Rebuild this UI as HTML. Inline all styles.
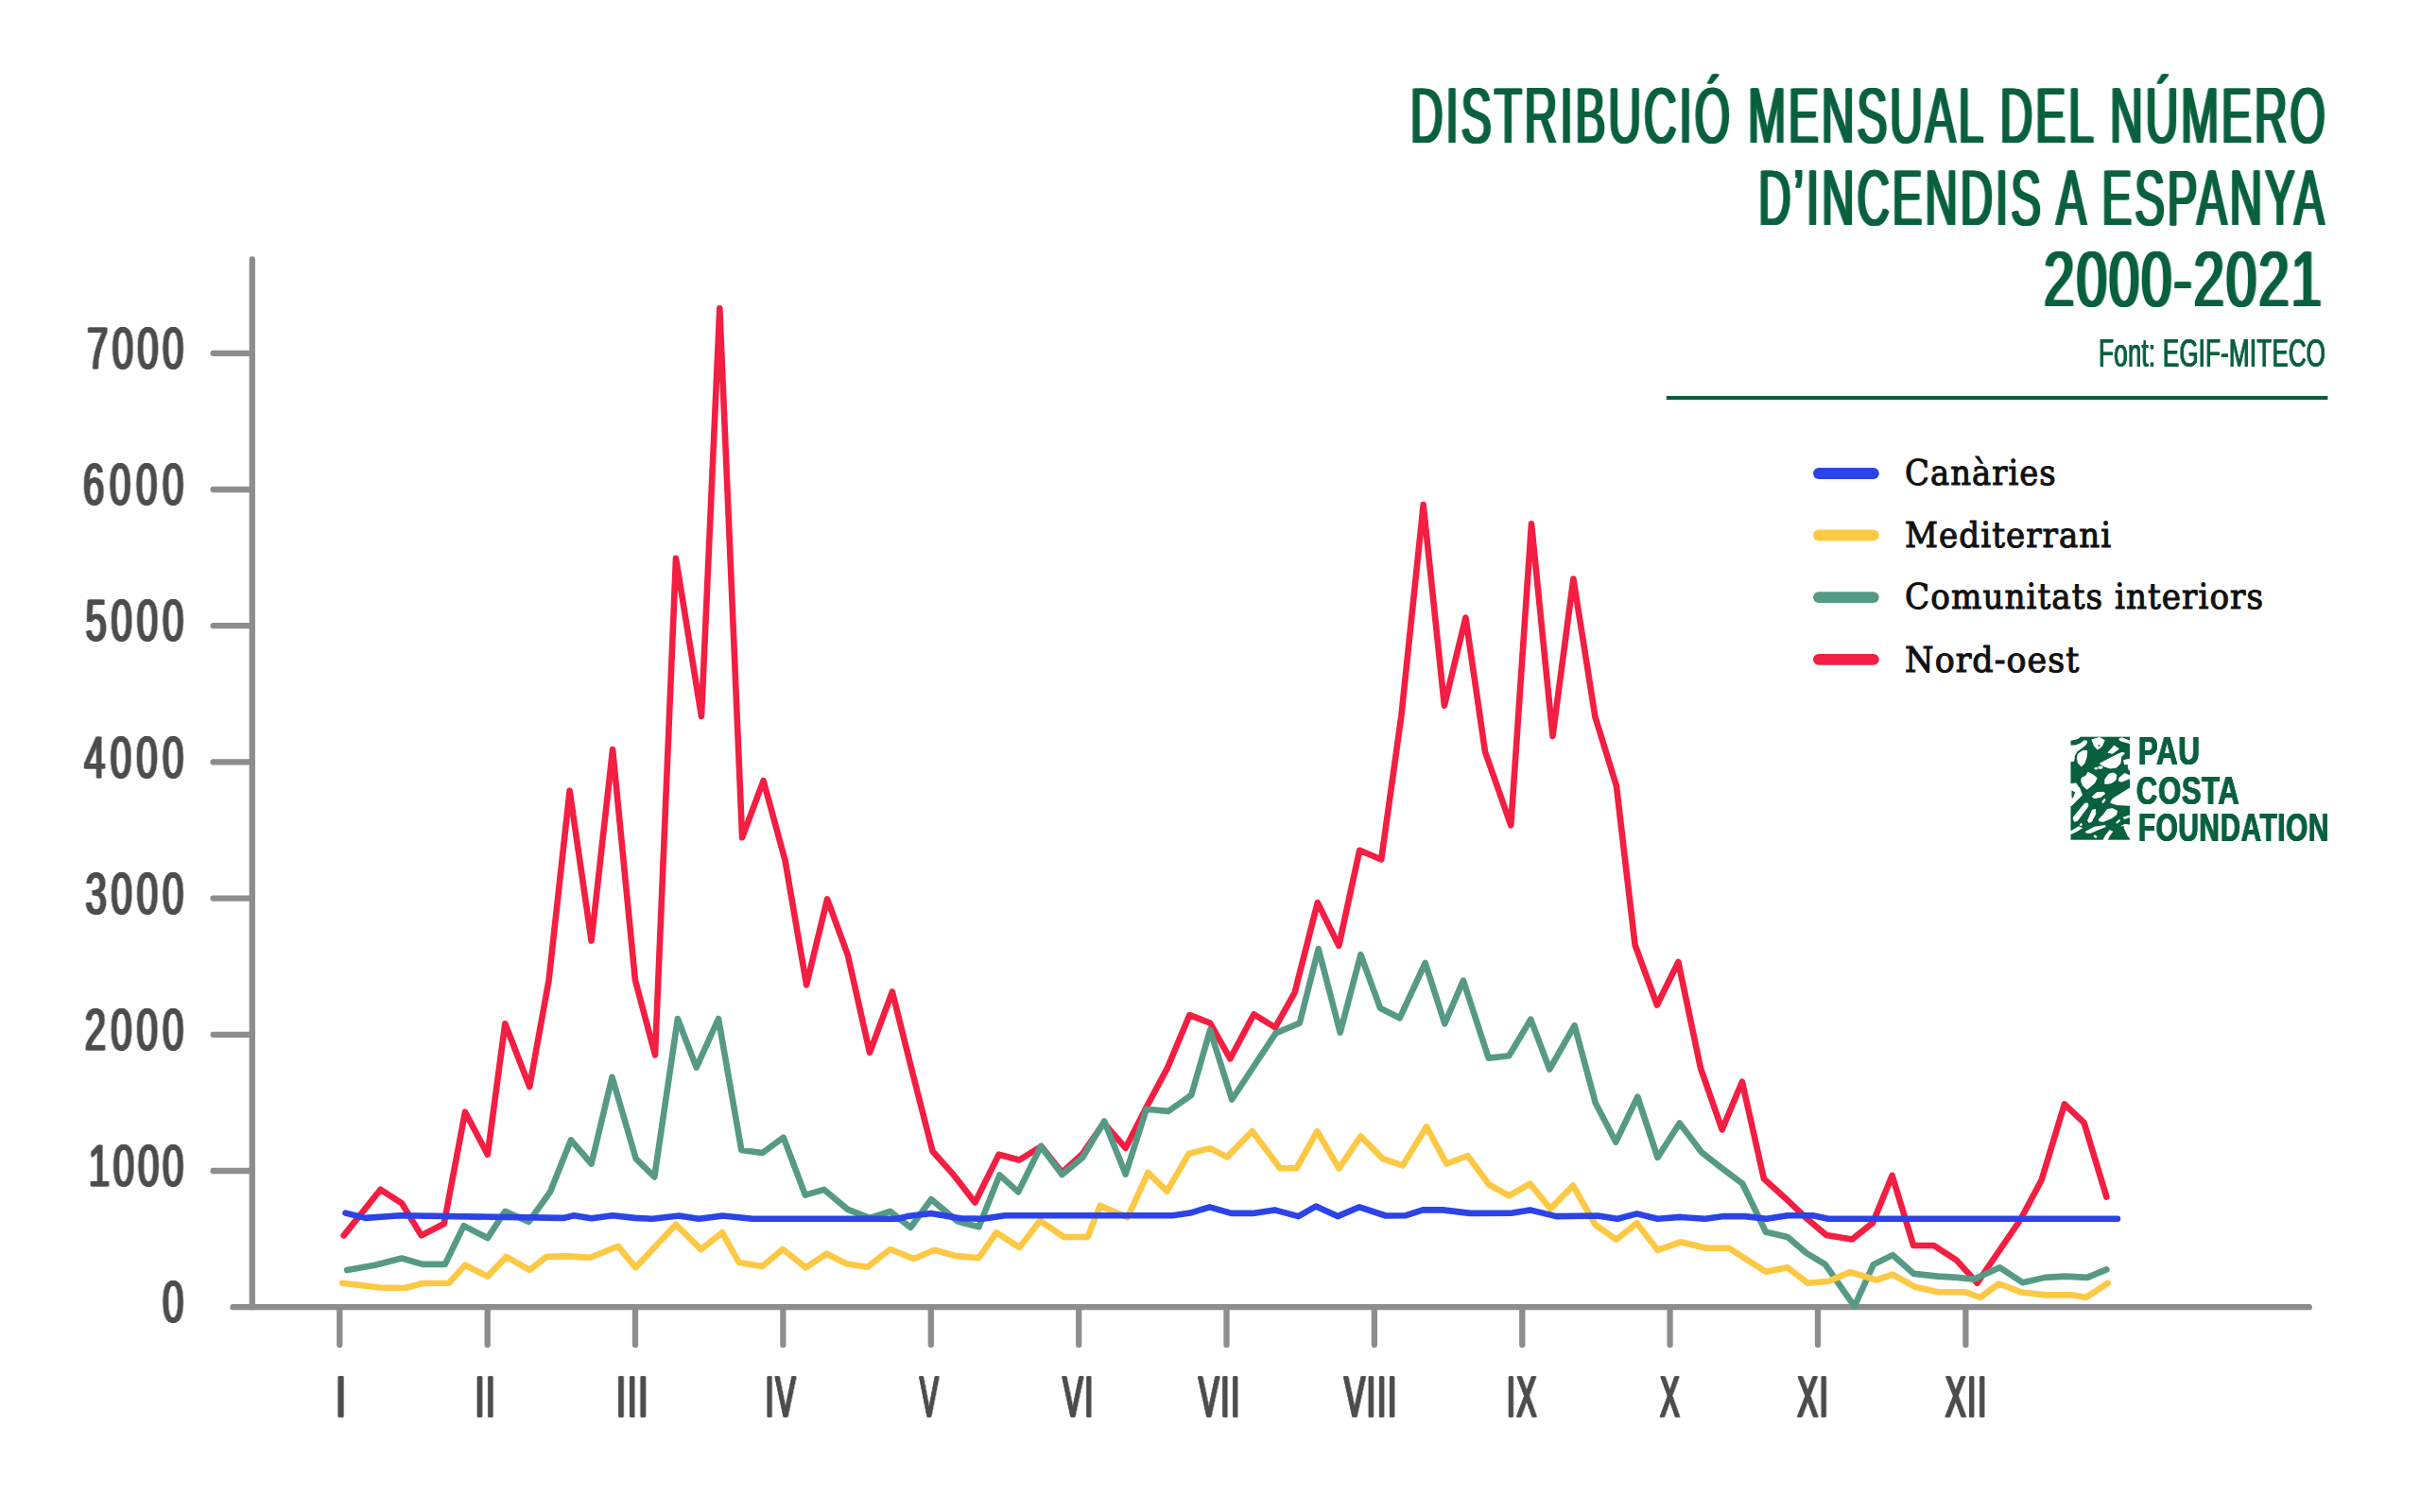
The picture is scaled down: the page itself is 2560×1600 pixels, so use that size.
<!DOCTYPE html>
<html lang="ca"><head><meta charset="utf-8"><title>Distribució mensual del número d’incendis a Espanya 2000-2021</title>
<style>
html,body{margin:0;padding:0;background:#fff;}
body{width:2560px;height:1600px;overflow:hidden;}
svg{display:block;}
text{font-family:"Liberation Sans",sans-serif;}
.ylab,.xlab{fill:#4d4d4d;}
.title{fill:#08603d;}
.src{fill:#08603d;}
.leg{font-family:"DejaVu Serif","Liberation Serif",serif;fill:#111;}
.logo{fill:#08603d;}
</style></head><body>
<svg width="2560" height="1600" viewBox="0 0 2560 1600">
<g stroke="#8d8d8d" stroke-width="6.3" stroke-linecap="round" fill="none">
<line x1="266.8" y1="274.3" x2="266.8" y2="1383.2"/>
<line x1="246.5" y1="1383.2" x2="2442.8" y2="1383.2"/>
<line x1="225.6" y1="1239.0" x2="266.8" y2="1239.0"/>
<line x1="225.6" y1="1094.8" x2="266.8" y2="1094.8"/>
<line x1="225.6" y1="950.6" x2="266.8" y2="950.6"/>
<line x1="225.6" y1="806.4" x2="266.8" y2="806.4"/>
<line x1="225.6" y1="662.2" x2="266.8" y2="662.2"/>
<line x1="225.6" y1="518.0" x2="266.8" y2="518.0"/>
<line x1="225.6" y1="373.8" x2="266.8" y2="373.8"/>
<line x1="359.3" y1="1383.2" x2="359.3" y2="1423"/>
<line x1="515.7" y1="1383.2" x2="515.7" y2="1423"/>
<line x1="672.0" y1="1383.2" x2="672.0" y2="1423"/>
<line x1="828.4" y1="1383.2" x2="828.4" y2="1423"/>
<line x1="984.8" y1="1383.2" x2="984.8" y2="1423"/>
<line x1="1141.2" y1="1383.2" x2="1141.2" y2="1423"/>
<line x1="1297.5" y1="1383.2" x2="1297.5" y2="1423"/>
<line x1="1453.9" y1="1383.2" x2="1453.9" y2="1423"/>
<line x1="1610.3" y1="1383.2" x2="1610.3" y2="1423"/>
<line x1="1766.6" y1="1383.2" x2="1766.6" y2="1423"/>
<line x1="1923.0" y1="1383.2" x2="1923.0" y2="1423"/>
<line x1="2079.4" y1="1383.2" x2="2079.4" y2="1423"/>
</g>
<polyline points="363.7,1307.4 402.5,1258.8 425.0,1273.3 445.7,1307.4 469.7,1295.0 492.0,1176.7 515.8,1221.7 534.3,1083.3 560.2,1150.0 580.6,1037.0 602.6,836.8 625.6,995.5 648.1,793.1 671.9,1037.0 693.0,1116.4 715.0,590.9 742.0,757.9 761.3,326.3 785.1,886.3 807.6,826.2 830.6,910.9 853.1,1042.3 875.1,951.4 896.8,1010.6 920.0,1113.8 943.9,1049.5 965.5,1136.0 986.5,1218.3 1008.9,1243.4 1031.4,1272.5 1056.6,1221.7 1078.3,1227.5 1101.5,1213.0 1123.5,1240.8 1145.2,1220.9 1167.7,1188.4 1190.7,1214.8 1214.0,1169.3 1235.2,1129.6 1258.4,1074.1 1280.1,1082.5 1301.3,1120.4 1326.4,1073.3 1348.9,1087.3 1369.6,1050.3 1393.8,955.1 1416.3,1000.8 1438.2,899.8 1461.2,909.5 1482.4,757.4 1505.7,534.1 1527.9,746.6 1550.4,653.5 1571.0,795.5 1598.3,873.3 1620.0,554.2 1642.5,778.9 1664.4,612.5 1687.4,758.5 1709.9,831.5 1729.6,1000.0 1752.9,1063.5 1775.4,1018.0 1799.0,1130.4 1821.7,1195.3 1842.9,1144.7 1865.9,1247.4 1888.4,1267.7 1910.1,1288.4 1932.0,1306.9 1959.3,1311.4 1981.0,1294.2 2001.6,1243.9 2024.1,1318.0 2045.8,1318.0 2069.6,1333.4 2091.6,1357.7 2137.1,1291.0 2159.6,1248.7 2183.9,1168.5 2204.5,1187.8 2228.4,1266.7" fill="none" stroke="#f31e42" stroke-width="6.6" stroke-linecap="round" stroke-linejoin="round"/>
<polyline points="367.1,1343.9 396.7,1338.7 425.0,1331.5 447.0,1337.9 470.8,1337.9 490.6,1297.1 515.8,1310.1 534.3,1281.8 559.4,1292.9 581.9,1261.4 603.9,1206.4 625.6,1231.5 647.5,1139.7 672.7,1226.2 692.3,1245.5 716.9,1078.0 736.7,1129.6 760.0,1078.0 784.3,1216.9 806.3,1220.1 828.8,1203.7 851.8,1264.6 871.6,1258.8 896.8,1279.9 920.0,1288.9 941.7,1281.8 963.2,1299.0 985.1,1269.1 1012.9,1292.4 1035.4,1298.4 1057.4,1243.4 1077.2,1261.4 1101.0,1213.0 1123.5,1242.9 1145.2,1224.9 1168.2,1186.5 1190.7,1242.6 1212.7,1173.8 1235.9,1175.9 1260.3,1158.7 1280.1,1090.0 1303.2,1163.5 1326.4,1128.3 1349.7,1093.1 1374.8,1082.8 1394.7,1004.0 1417.7,1092.6 1439.4,1010.1 1460.0,1066.7 1480.7,1077.3 1507.7,1019.0 1528.3,1083.3 1547.9,1037.6 1574.6,1119.6 1596.3,1117.2 1619.3,1078.6 1639.2,1131.5 1665.6,1085.2 1687.8,1167.2 1709.3,1208.5 1732.3,1160.6 1753.5,1224.9 1776.7,1188.4 1799.8,1219.1 1821.7,1236.3 1843.4,1252.7 1868.0,1303.7 1891.0,1309.0 1910.9,1326.0 1930.7,1337.9 1961.7,1382.3 1981.8,1338.1 2002.1,1328.1 2024.6,1347.9 2049.8,1350.6 2070.9,1351.9 2088.1,1353.7 2115.4,1341.3 2139.7,1357.2 2163.0,1351.9 2184.7,1350.6 2208.0,1351.9 2228.4,1343.4" fill="none" stroke="#569a86" stroke-width="6.6" stroke-linecap="round" stroke-linejoin="round"/>
<polyline points="362.3,1357.7 402.0,1362.5 428.5,1363.0 447.0,1358.0 474.8,1357.7 492.0,1338.7 515.8,1350.6 535.6,1329.9 560.2,1343.9 578.0,1329.9 600.4,1329.4 624.3,1330.7 653.9,1318.8 672.4,1341.3 715.0,1295.8 741.5,1322.2 764.0,1304.3 781.7,1336.0 806.3,1340.0 828.0,1322.0 852.6,1341.3 874.3,1326.7 895.4,1337.3 917.4,1340.8 941.7,1322.0 966.6,1332.0 988.6,1322.8 1010.3,1328.9 1035.4,1331.2 1053.9,1304.3 1078.5,1320.1 1100.2,1291.8 1125.4,1309.0 1150.5,1309.0 1163.7,1275.9 1192.8,1288.4 1214.5,1240.8 1234.4,1260.6 1257.6,1220.9 1280.1,1215.1 1298.1,1224.4 1324.6,1197.1 1354.2,1236.3 1371.4,1236.3 1393.4,1197.1 1416.4,1236.3 1439.4,1202.4 1462.7,1226.2 1483.9,1233.4 1509.0,1192.3 1530.2,1231.5 1552.6,1223.0 1575.1,1253.5 1596.3,1265.4 1618.5,1252.7 1640.2,1279.1 1664.0,1254.5 1687.8,1296.3 1709.8,1311.7 1731.5,1294.2 1753.5,1322.8 1777.8,1314.3 1805.0,1320.7 1828.9,1320.7 1868.0,1345.8 1891.0,1341.3 1912.2,1357.7 1934.7,1355.8 1957.2,1346.1 1985.0,1354.5 2002.1,1348.7 2026.0,1361.9 2049.8,1367.2 2078.3,1367.2 2094.7,1373.0 2114.6,1358.5 2137.1,1367.2 2163.5,1370.4 2192.6,1370.4 2206.7,1373.0 2229.7,1357.7" fill="none" stroke="#fdc843" stroke-width="6.6" stroke-linecap="round" stroke-linejoin="round"/>
<polyline points="365.5,1283.6 386.7,1288.9 423.2,1286.3 596.5,1288.9 607.1,1286.3 625.6,1289.2 648.1,1286.3 671.9,1288.9 690.4,1289.7 718.2,1286.5 739.3,1289.7 764.5,1286.5 796.2,1289.7 949.7,1289.7 960.0,1287.1 985.1,1283.9 1015.6,1289.2 1039.4,1289.7 1063.2,1286.3 1240.4,1286.3 1259.0,1283.6 1279.6,1277.3 1302.6,1283.9 1325.1,1283.9 1348.4,1280.4 1373.5,1287.1 1392.0,1276.5 1415.1,1287.1 1438.1,1277.3 1465.9,1286.5 1486.5,1286.3 1505.0,1280.4 1526.2,1280.4 1555.3,1283.9 1600.0,1283.6 1618.5,1280.4 1646.3,1287.1 1690.0,1286.5 1711.1,1289.7 1731.5,1284.4 1753.5,1289.7 1777.3,1287.9 1803.7,1289.7 1823.6,1287.1 1846.1,1287.1 1868.5,1289.7 1891.0,1286.3 1917.5,1286.3 1934.2,1289.7 2240.0,1289.7" fill="none" stroke="#2c43e8" stroke-width="6.6" stroke-linecap="round" stroke-linejoin="round"/>
<line x1="1762.8" y1="421" x2="2462.4" y2="421" stroke="#08603d" stroke-width="4.2"/>
<line x1="1923.9" y1="501.0" x2="1981.9" y2="501.0" stroke="#2c43e8" stroke-width="11.8" stroke-linecap="round"/>
<line x1="1923.9" y1="566.4" x2="1981.9" y2="566.4" stroke="#fdc843" stroke-width="11.8" stroke-linecap="round"/>
<line x1="1923.9" y1="632.1" x2="1981.9" y2="632.1" stroke="#569a86" stroke-width="11.8" stroke-linecap="round"/>
<line x1="1923.9" y1="697.8" x2="1981.9" y2="697.8" stroke="#f31e42" stroke-width="11.8" stroke-linecap="round"/>
<g>
<rect x="2190.5" y="779.7" width="62.5" height="109" fill="#08603d"/>
<g fill="#fff" stroke="#fff" stroke-width="1.0" stroke-linejoin="round">
<polygon points="2189.6,789.1 2195.9,788.9 2201.1,786.7 2204.6,783.9 2207.8,784.2 2206.6,787.9 2201.1,792.2 2196.7,795.4 2194.3,800.2 2193.9,805.3 2189.6,805.7"/>
<polygon points="2213.0,782.7 2221.3,780.5 2226.2,783.4 2223.3,789.9 2218.9,793.0 2215.7,789.9"/>
<polygon points="2241.8,781.9 2244.7,780.8 2253.2,784.2 2253.2,786.7 2247.5,785.1 2242.7,783.7"/>
<polygon points="2230.0,796.4 2236.4,789.1 2241.3,792.4 2234.8,797.2"/>
<polygon points="2221.3,808.1 2233.2,801.8 2244.3,796.4 2247.5,797.0 2243.7,801.0 2242.9,808.1 2238.7,812.1 2232.4,813.0 2226.8,811.3"/>
<polygon points="2198.3,797.8 2203.8,794.2 2207.8,794.6 2207.2,801.0 2204.8,808.1 2201.6,810.9 2198.4,807.3 2197.5,802.6"/>
<polygon points="2246.7,804.5 2253.2,803.2 2253.2,808.3 2247.5,808.9"/>
<polygon points="2251.3,808.9 2253.2,808.9 2253.2,815.3 2251.4,813.7"/>
<polygon points="2215.7,812.9 2218.1,812.1 2218.9,813.7 2216.5,814.1"/>
<polygon points="2219.7,811.3 2223.7,810.9 2224.1,812.9 2220.5,813.3"/>
<polygon points="2202.1,823.3 2207.0,820.8 2208.8,817.2 2214.1,820.0 2218.1,823.3 2215.7,828.7 2207.8,835.2 2203.8,831.9 2201.8,827.2"/>
<polygon points="2226.8,824.8 2230.8,819.2 2235.6,818.0 2238.9,820.0 2237.9,825.6 2233.2,828.7 2226.8,829.5"/>
<polygon points="2241.9,823.2 2247.5,818.4 2253.2,821.0 2253.2,823.6 2244.3,827.2 2241.5,826.4"/>
<polygon points="2189.6,829.9 2195.9,828.9 2199.9,834.3 2202.4,841.4 2195.9,847.8 2191.9,852.1 2189.6,852.9"/>
<polygon points="2213.2,843.2 2218.1,838.7 2225.3,838.3 2226.8,839.8 2222.1,843.5 2215.7,844.6"/>
<polygon points="2234.8,845.4 2252.2,834.5 2253.8,834.3 2253.8,852.3 2249.8,852.1 2239.5,851.6 2232.6,849.4"/>
<polygon points="2223.7,848.7 2226.0,845.4 2227.2,846.2 2224.9,849.8"/>
<polygon points="2193.1,865.2 2205.4,850.2 2208.6,850.0 2208.8,853.3 2197.6,868.4 2194.3,869.2"/>
<polygon points="2208.6,868.4 2213.4,857.3 2216.5,856.5 2216.7,861.3 2212.6,869.2 2209.8,870.4"/>
<polygon points="2220.5,866.8 2225.3,862.1 2229.2,856.5 2234.8,855.7 2239.5,858.1 2238.7,862.1 2233.2,866.0 2225.3,869.2 2220.9,868.9"/>
<polygon points="2246.0,865.2 2253.8,862.7 2253.8,864.3 2247.5,866.4"/>
<polygon points="2238.7,870.4 2241.9,867.6 2242.9,868.4 2239.5,871.3"/>
<polygon points="2189.6,880.3 2199.1,874.8 2202.4,876.3 2196.7,879.7 2191.9,882.1 2189.6,882.5"/>
<polygon points="2206.2,880.3 2215.7,875.2 2226.8,873.6 2227.3,874.8 2218.9,878.1 2211.8,881.3 2207.0,881.3"/>
<polygon points="2200.3,872.4 2201.8,871.2 2202.2,873.2 2200.8,873.6"/>
<polygon points="2214.9,884.7 2216.5,883.9 2218.1,885.9 2216.1,886.3"/>
<polygon points="2244.5,874.1 2246.8,873.2 2247.6,877.1 2251.4,885.1 2253.8,887.4 2253.8,873.2 2247.5,872.4"/>
<polygon points="2224.9,889.4 2226.8,885.1 2231.6,878.7 2234.8,879.9 2231.6,884.3 2228.8,889.4"/>
<polygon points="2189.6,778.8 2201.1,778.8 2198.3,781.5 2189.6,783.5"/>
</g>
<circle cx="2220.5" cy="789.1" r="1.0" fill="#08603d"/>
<polygon points="2191.5,836.3 2195.1,838.4 2192.9,844.6 2191.5,843.8" fill="#08603d"/>
</g>
<text class="title" font-weight="normal" font-size="82.99" style="letter-spacing:5.00px;filter:drop-shadow(2.5px 0 0 #08603d) drop-shadow(-2.5px 0 0 #08603d);" transform="translate(1492.30,151.20) scale(0.5781,1)">DISTRIBUCIÓ MENSUAL DEL NÚMERO</text>
<text class="title" font-weight="normal" font-size="82.99" style="letter-spacing:5.00px;filter:drop-shadow(2.5px 0 0 #08603d) drop-shadow(-2.5px 0 0 #08603d);" transform="translate(1860.51,237.50) scale(0.5746,1)">D’INCENDIS A ESPANYA</text>
<text class="title" font-weight="normal" font-size="82.99" style="letter-spacing:2.83px;filter:drop-shadow(2.3px 0 0 #08603d) drop-shadow(-2.3px 0 0 #08603d);" transform="translate(2162.59,323.80) scale(0.7000,1)">2000-2021</text>
<text class="src" font-weight="normal" font-size="43.00" style="letter-spacing:0.40px;filter:drop-shadow(0.2px 0 0 #08603d) drop-shadow(-0.2px 0 0 #08603d);" transform="translate(2220.50,387.80) scale(0.6022,1)">Font: EGIF-MITECO</text>
<text class="ylab" font-weight="normal" font-size="62.50" style="letter-spacing:2.90px;stroke:#4d4d4d;stroke-width:0.5px;stroke-linejoin:miter;filter:drop-shadow(1.2px 0 0 #4d4d4d) drop-shadow(-1.2px 0 0 #4d4d4d);" transform="translate(172.18,1399.35) scale(0.6450,1)">0</text>
<text class="ylab" font-weight="normal" font-size="62.50" style="letter-spacing:5.72px;stroke:#4d4d4d;stroke-width:0.5px;stroke-linejoin:miter;filter:drop-shadow(1.2px 0 0 #4d4d4d) drop-shadow(-1.2px 0 0 #4d4d4d);" transform="translate(93.92,1255.15) scale(0.6450,1)">1000</text>
<text class="ylab" font-weight="normal" font-size="62.50" style="letter-spacing:7.72px;stroke:#4d4d4d;stroke-width:0.5px;stroke-linejoin:miter;filter:drop-shadow(1.2px 0 0 #4d4d4d) drop-shadow(-1.2px 0 0 #4d4d4d);" transform="translate(90.05,1110.95) scale(0.6450,1)">2000</text>
<text class="ylab" font-weight="normal" font-size="62.50" style="letter-spacing:7.40px;stroke:#4d4d4d;stroke-width:0.5px;stroke-linejoin:miter;filter:drop-shadow(1.2px 0 0 #4d4d4d) drop-shadow(-1.2px 0 0 #4d4d4d);" transform="translate(90.68,966.75) scale(0.6450,1)">3000</text>
<text class="ylab" font-weight="normal" font-size="62.50" style="letter-spacing:8.11px;stroke:#4d4d4d;stroke-width:0.5px;stroke-linejoin:miter;filter:drop-shadow(1.2px 0 0 #4d4d4d) drop-shadow(-1.2px 0 0 #4d4d4d);" transform="translate(89.31,822.55) scale(0.6450,1)">4000</text>
<text class="ylab" font-weight="normal" font-size="62.50" style="letter-spacing:7.40px;stroke:#4d4d4d;stroke-width:0.5px;stroke-linejoin:miter;filter:drop-shadow(1.2px 0 0 #4d4d4d) drop-shadow(-1.2px 0 0 #4d4d4d);" transform="translate(90.68,678.35) scale(0.6450,1)">5000</text>
<text class="ylab" font-weight="normal" font-size="62.50" style="letter-spacing:8.65px;stroke:#4d4d4d;stroke-width:0.5px;stroke-linejoin:miter;filter:drop-shadow(1.2px 0 0 #4d4d4d) drop-shadow(-1.2px 0 0 #4d4d4d);" transform="translate(88.25,534.15) scale(0.6450,1)">6000</text>
<text class="ylab" font-weight="normal" font-size="62.50" style="letter-spacing:6.53px;stroke:#4d4d4d;stroke-width:0.5px;stroke-linejoin:miter;filter:drop-shadow(1.2px 0 0 #4d4d4d) drop-shadow(-1.2px 0 0 #4d4d4d);" transform="translate(92.35,389.95) scale(0.6450,1)">7000</text>
<text class="xlab" font-weight="normal" font-size="61.63" style="letter-spacing:3.60px;stroke:#4d4d4d;stroke-width:1.2px;stroke-linejoin:miter;filter:drop-shadow(1.2px 0 0 #4d4d4d) drop-shadow(-1.2px 0 0 #4d4d4d);" transform="translate(355.40,1499.00) scale(0.6286,1)">I</text>
<text class="xlab" font-weight="normal" font-size="61.63" style="letter-spacing:3.60px;stroke:#4d4d4d;stroke-width:1.2px;stroke-linejoin:miter;filter:drop-shadow(1.2px 0 0 #4d4d4d) drop-shadow(-1.2px 0 0 #4d4d4d);" transform="translate(503.04,1499.00) scale(0.5505,1)">II</text>
<text class="xlab" font-weight="normal" font-size="61.63" style="letter-spacing:3.60px;stroke:#4d4d4d;stroke-width:1.2px;stroke-linejoin:miter;filter:drop-shadow(1.2px 0 0 #4d4d4d) drop-shadow(-1.2px 0 0 #4d4d4d);" transform="translate(652.51,1499.00) scale(0.5619,1)">III</text>
<text class="xlab" font-weight="normal" font-size="61.63" style="letter-spacing:3.60px;stroke:#4d4d4d;stroke-width:1.2px;stroke-linejoin:miter;filter:drop-shadow(1.2px 0 0 #4d4d4d) drop-shadow(-1.2px 0 0 #4d4d4d);" transform="translate(810.06,1499.00) scale(0.5122,1)">IV</text>
<text class="xlab" font-weight="normal" font-size="61.63" style="letter-spacing:3.60px;stroke:#4d4d4d;stroke-width:1.2px;stroke-linejoin:miter;filter:drop-shadow(1.2px 0 0 #4d4d4d) drop-shadow(-1.2px 0 0 #4d4d4d);" transform="translate(973.26,1499.00) scale(0.4799,1)">V</text>
<text class="xlab" font-weight="normal" font-size="61.63" style="letter-spacing:3.60px;stroke:#4d4d4d;stroke-width:1.2px;stroke-linejoin:miter;filter:drop-shadow(1.2px 0 0 #4d4d4d) drop-shadow(-1.2px 0 0 #4d4d4d);" transform="translate(1124.53,1499.00) scale(0.5179,1)">VI</text>
<text class="xlab" font-weight="normal" font-size="61.63" style="letter-spacing:3.60px;stroke:#4d4d4d;stroke-width:1.2px;stroke-linejoin:miter;filter:drop-shadow(1.2px 0 0 #4d4d4d) drop-shadow(-1.2px 0 0 #4d4d4d);" transform="translate(1268.15,1499.00) scale(0.5262,1)">VII</text>
<text class="xlab" font-weight="normal" font-size="61.63" style="letter-spacing:3.60px;stroke:#4d4d4d;stroke-width:1.2px;stroke-linejoin:miter;filter:drop-shadow(1.2px 0 0 #4d4d4d) drop-shadow(-1.2px 0 0 #4d4d4d);" transform="translate(1422.16,1499.00) scale(0.5350,1)">VIII</text>
<text class="xlab" font-weight="normal" font-size="61.63" style="letter-spacing:3.60px;stroke:#4d4d4d;stroke-width:1.2px;stroke-linejoin:miter;filter:drop-shadow(1.2px 0 0 #4d4d4d) drop-shadow(-1.2px 0 0 #4d4d4d);" transform="translate(1594.17,1499.00) scale(0.5071,1)">IX</text>
<text class="xlab" font-weight="normal" font-size="61.63" style="letter-spacing:3.60px;stroke:#4d4d4d;stroke-width:1.2px;stroke-linejoin:miter;filter:drop-shadow(1.2px 0 0 #4d4d4d) drop-shadow(-1.2px 0 0 #4d4d4d);" transform="translate(1756.62,1499.00) scale(0.4967,1)">X</text>
<text class="xlab" font-weight="normal" font-size="61.63" style="letter-spacing:3.60px;stroke:#4d4d4d;stroke-width:1.2px;stroke-linejoin:miter;filter:drop-shadow(1.2px 0 0 #4d4d4d) drop-shadow(-1.2px 0 0 #4d4d4d);" transform="translate(1901.64,1499.00) scale(0.5246,1)">XI</text>
<text class="xlab" font-weight="normal" font-size="61.63" style="letter-spacing:3.60px;stroke:#4d4d4d;stroke-width:1.2px;stroke-linejoin:miter;filter:drop-shadow(1.2px 0 0 #4d4d4d) drop-shadow(-1.2px 0 0 #4d4d4d);" transform="translate(2058.14,1499.00) scale(0.5250,1)">XII</text>
<text class="leg" font-weight="normal" font-size="37.60" style="letter-spacing:1.10px;stroke:#111;stroke-width:1.1px;stroke-linejoin:miter;" transform="translate(2015.11,512.95) scale(0.9014,1)">Canàries</text>
<text class="leg" font-weight="normal" font-size="37.60" style="letter-spacing:1.10px;stroke:#111;stroke-width:1.1px;stroke-linejoin:miter;" transform="translate(2015.10,578.85) scale(0.9098,1)">Mediterrani</text>
<text class="leg" font-weight="normal" font-size="37.60" style="letter-spacing:1.10px;stroke:#111;stroke-width:1.1px;stroke-linejoin:miter;" transform="translate(2015.10,644.45) scale(0.9113,1)">Comunitats interiors</text>
<text class="leg" font-weight="normal" font-size="37.60" style="letter-spacing:1.10px;stroke:#111;stroke-width:1.1px;stroke-linejoin:miter;" transform="translate(2015.07,710.65) scale(0.9288,1)">Nord-oest</text>
<text class="logo" font-weight="bold" font-size="42.01" style="letter-spacing:0.90px;filter:drop-shadow(0.45px 0 0 #08603d) drop-shadow(-0.45px 0 0 #08603d);" transform="translate(2262.18,809.30) scale(0.7446,1)">PAU</text>
<text class="logo" font-weight="bold" font-size="42.01" style="letter-spacing:0.90px;filter:drop-shadow(0.45px 0 0 #08603d) drop-shadow(-0.45px 0 0 #08603d);" transform="translate(2260.36,850.60) scale(0.7383,1)">COSTA</text>
<text class="logo" font-weight="bold" font-size="42.01" style="letter-spacing:0.90px;filter:drop-shadow(0.45px 0 0 #08603d) drop-shadow(-0.45px 0 0 #08603d);" transform="translate(2262.26,890.30) scale(0.7073,1)">FOUNDATION</text>
</svg>
</body></html>
